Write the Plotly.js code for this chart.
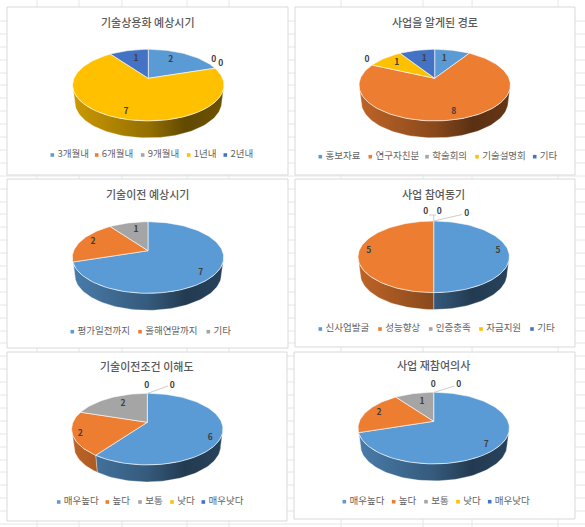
<!DOCTYPE html>
<html><head><meta charset="utf-8">
<script src="https://cdn.plot.ly/plotly-3.0.0.min.js"></script>
<style>html,body{margin:0;padding:0;background:#fff}#c{width:585px;height:527px}</style>
</head><body><div id="c"></div>
<script>
// ---- values ----
const titles = ['기술상용화 예상시기','사업을 알게된 경로','기술이전 예상시기','사업 참여동기','기술이전조건 이해도','사업 재참여의사'];
const cats1 = ['3개월내','6개월내','9개월내','1년내','2년내'];
const vals1 = [2,0,0,7,1];
const cats2 = ['홍보자료','연구자친분','학술회의','기술설명회','기타'];
const vals2 = [1,8,0,1,1];
const cats3 = ['평가일전까지','올해연말까지','기타'];
const vals3 = [7,2,1];
const cats4 = ['신사업발굴','성능향상','인증충족','자금지원','기타'];
const vals4 = [5,5,0,0,0];
const cats5 = ['매우높다','높다','보통','낮다','매우낮다'];
const vals5 = [6,2,2,0,0];
const cats6 = ['매우높다','높다','보통','낮다','매우낮다'];
const vals6 = [7,2,1,0,0];
const allCats = [cats1,cats2,cats3,cats4,cats5,cats6];
const allVals = [vals1,vals2,vals3,vals4,vals5,vals6];

// ---- layout, in page pixels (kept apart from the data) ----
const W = 585, H = 527;
const panels = [[7,7,288,175],[295,7,575,175],[7,179,288,348],[295,179,575,347],[7,352,287,521],[294,352,575,519]];
const apexes = [[148.3,78.3],[434.7,78.3],[148,250.7],[433.7,250],[147.3,422.3],[433.7,421.3]];
const titlePos = [[147.7,21.7],[434.7,21.7],[147.7,194],[433.7,194],[147,366.3],[433.7,365.3]];
const labelPos = [
  [[170.7,60],[213.7,59.5],[220.7,63.5],[126,111.7],[136,58.7]],
  [[444.3,58.7],[453.7,111.7],[367,59.7],[396.7,63.3],[424.3,58.7]],
  [[200.7,273.3],[93,242.3],[136,230.3]],
  [[498,250.7],[368.7,250.7],[425.7,212],[439.3,212],[466.7,214]],
  [[210.3,438],[80.3,434.3],[123,404],[146.7,386],[172.3,385.7]],
  [[486.3,444.7],[379,413.3],[422,401.7],[433.3,385],[458.7,384.7]]
];
const leaders = [
  [],[],[],
  [[[429,215],[433.7,215],[433.7,221]],[[433.7,221],[462,214.5]],[[433.7,215],[436,215]]],
  [[[147.3,393.5],[168,386]]],
  [[[433.7,392.5],[454.5,386]]]
];
const legendY = [155,156.7,331.7,329,502,501.7];
const legendX = [
  [52.3,96.7,142.7,188.7,225.3],
  [320.3,370.3,427,477,534.7],
  [72.3,140,208.3],
  [320.3,380,430.7,481,532],
  [58.7,107.3,140,172,203.3],
  [344.3,393.7,426,458,489.7]
];
const gridY = [21,34,47,60,73,85,98,111,124,137,150,163,176,189,202,214,227,240,253,266,279,292,305,318,331,343,356,369,382,395,408,421,434,447,460,472,485,498,511,524];
const gridX = [37,79,122,187,229,341,423,472,558];

// ---- styles ----
const palette = ['#5B9BD5','#ED7D31','#A5A5A5','#FFC000','#4472C4'];
const FONT = '"Noto Sans CJK KR","Noto Sans",sans-serif';
const R = 74.3, S = 34.5, K = 0.19, DEPTH = 17, BOTTOM_SCALE = 0.97;

function shade(hex,f){
  const n = parseInt(hex.slice(1),16);
  const c = [n>>16&255,n>>8&255,n&255].map(v=>Math.round(v*f));
  return 'rgb('+c.join(',')+')';
}
function rim(t){ // t: clockwise degrees from the top, projected with a little perspective
  const a = t*Math.PI/180, d = 1+K*Math.cos(a);
  return [R*Math.sin(a)/d, -S*Math.cos(a)/d];
}
function arc(from,to){
  const n = Math.max(1,Math.ceil((to-from)/2)), out=[];
  for(let i=0;i<=n;i++) out.push(rim(from+(to-from)*i/n));
  return out;
}
const WALL_FROM = 180-Math.acos(K)*180/Math.PI, WALL_TO = 360-WALL_FROM;

const traces=[], shapes=[], annotations=[], layout={};
gridY.forEach(y=>shapes.push({type:'line',xref:'paper',yref:'paper',x0:0,x1:1,y0:1-y/H,y1:1-y/H,line:{color:'#e6e6e6',width:1},layer:'below'}));
gridX.forEach(x=>shapes.push({type:'line',xref:'paper',yref:'paper',x0:x/W,x1:x/W,y0:0,y1:1,line:{color:'#e6e6e6',width:1},layer:'below'}));

allVals.forEach((vals,i)=>{
  const n = i+1, xa = n===1?'x':'x'+n, ya = n===1?'y':'y'+n;
  const [L,T,Rt,B] = panels[i], [ax,ay] = apexes[i];
  shapes.push({type:'rect',xref:'paper',yref:'paper',x0:L/W,x1:Rt/W,y0:1-B/H,y1:1-T/H,fillcolor:'#fff',line:{color:'#d9d9d9',width:1},layer:'below'});
  layout['xaxis'+(n===1?'':n)] = {domain:[L/W,Rt/W],range:[L,Rt],visible:false,fixedrange:true,anchor:ya};
  layout['yaxis'+(n===1?'':n)] = {domain:[1-B/H,1-T/H],range:[B,T],visible:false,fixedrange:true,anchor:xa};

  const total = vals.reduce((a,b)=>a+b,0);
  let acc = 0;
  const spans = vals.map(v=>{const s=[acc/total*360,(acc+v)/total*360]; acc+=v; return s;});

  // side wall
  vals.forEach((v,j)=>{
    if(!v) return;
    const from = Math.max(spans[j][0],WALL_FROM), to = Math.min(spans[j][1],WALL_TO);
    if(to<=from) return;
    const top = arc(from,to);
    const bot = top.slice().reverse().map(p=>[p[0]*BOTTOM_SCALE,p[1]+DEPTH]);
    const pts = top.concat(bot); pts.push(top[0]);
    const c = palette[j];
    traces.push({type:'scatter',xaxis:xa,yaxis:ya,mode:'lines',fill:'toself',
      x:pts.map(p=>ax+p[0]),y:pts.map(p=>ay+p[1]),
      line:{width:0.7,color:'rgba(255,255,255,0.45)'},
      fillgradient:{type:'horizontal',start:ax-R*1.02,stop:ax+R*1.02,
        colorscale:[[0,shade(c,.8)],[.5,shade(c,.58)],[.75,shade(c,.38)],[1,shade(c,.43)]]},
      hoverinfo:'skip',showlegend:false});
  });
  // top face
  vals.forEach((v,j)=>{
    if(!v) return;
    const pts = [[0,0]].concat(arc(spans[j][0],spans[j][1])); pts.push([0,0]);
    traces.push({type:'scatter',xaxis:xa,yaxis:ya,mode:'lines',fill:'toself',
      x:pts.map(p=>ax+p[0]),y:pts.map(p=>ay+p[1]),
      fillcolor:palette[j],line:{width:0.8,color:'rgba(255,255,255,0.75)'},
      hoverinfo:'skip',showlegend:false});
  });
  // leader lines
  leaders[i].forEach(l=>traces.push({type:'scatter',xaxis:xa,yaxis:ya,mode:'lines',
    x:l.map(p=>p[0]),y:l.map(p=>p[1]),line:{width:0.8,color:'#bfbfbf'},hoverinfo:'skip',showlegend:false}));
  // data labels
  traces.push({type:'scatter',xaxis:xa,yaxis:ya,mode:'text',
    x:labelPos[i].map(p=>p[0]),y:labelPos[i].map(p=>p[1]),text:vals.map(String),
    textposition:'middle center',textfont:{family:FONT,size:8.5,color:'#404040',weight:700},
    hoverinfo:'skip',showlegend:false,cliponaxis:false});
  // legend row
  traces.push({type:'scatter',xaxis:xa,yaxis:ya,mode:'markers+text',
    x:legendX[i],y:legendX[i].map(()=>legendY[i]),text:allCats[i].map(s=>'\u2009'+s),
    textposition:'middle right',textfont:{family:FONT,size:9.5,color:'#636363'},
    marker:{symbol:'square',size:3.6,color:palette.slice(0,allCats[i].length)},
    hoverinfo:'skip',showlegend:false,cliponaxis:false});
  // title
  annotations.push({xref:xa,yref:ya,x:titlePos[i][0],y:titlePos[i][1],text:titles[i],showarrow:false,
    xanchor:'center',yanchor:'middle',font:{family:FONT,size:11,color:'#595959',weight:500}});
});

Object.assign(layout,{width:W,height:H,margin:{l:0,r:0,t:0,b:0},paper_bgcolor:'#fff',plot_bgcolor:'rgba(0,0,0,0)',
  showlegend:false,shapes,annotations,hovermode:false});
Plotly.newPlot('c',traces,layout,{displayModeBar:false,staticPlot:true});
</script></body></html>
